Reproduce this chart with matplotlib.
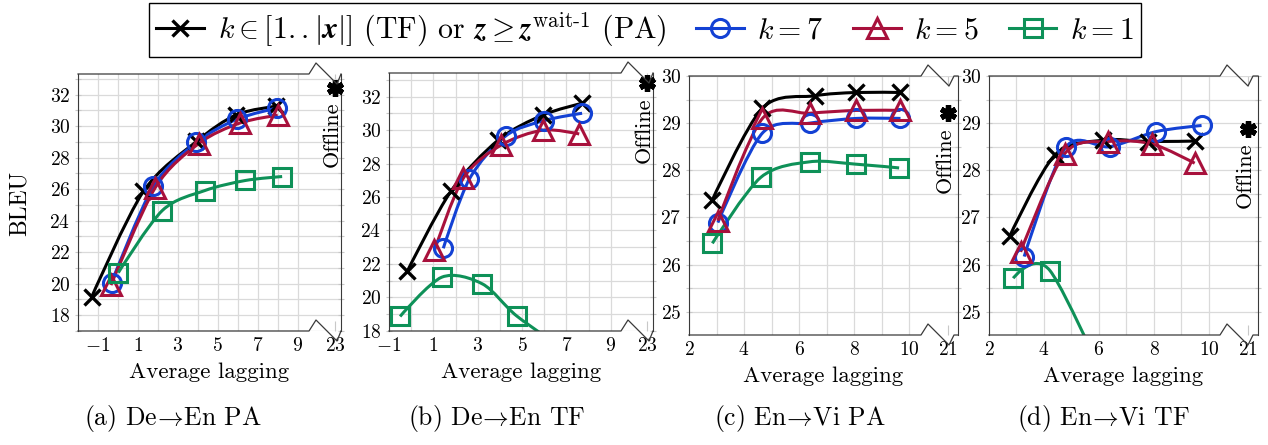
import matplotlib
matplotlib.use("Agg")
import numpy as np
import matplotlib.pyplot as plt
from matplotlib.path import Path
from matplotlib.patches import PathPatch
from matplotlib.lines import Line2D
from matplotlib.ticker import MultipleLocator, FixedLocator

plt.rcParams["font.family"] = "cmr10"
plt.rcParams["mathtext.fontset"] = "cm"
plt.rcParams["axes.formatter.use_mathtext"] = True

W, H = 1268, 445

# average lagging / BLEU for each panel and each wait setting
a_full_x = [-1.32, 1.27, 3.93, 5.93, 7.93]
a_full_y = [19.13, 25.85, 29.03, 30.73, 31.27]
a_k7_x = [-0.32, 1.77, 3.93, 5.97, 7.98]
a_k7_y = [20.06, 26.17, 28.97, 30.45, 31.16]
a_k5_x = [-0.35, 1.87, 4.05, 6.1, 8.0]
a_k5_y = [19.9, 26.1, 28.9, 30.2, 30.7]
a_k1_x = [0.02, 2.22, 4.35, 6.38, 8.22]
a_k1_y = [20.69, 24.64, 25.91, 26.55, 26.8]
a_offline = (23, 32.43)

b_full_x = [-0.17, 1.80, 3.93, 5.93, 7.69]
b_full_y = [21.57, 26.36, 29.41, 30.9, 31.6]
b_k7_x = [1.45, 2.62, 4.26, 5.99, 7.71]
b_k7_y = [22.93, 27.06, 29.65, 30.57, 31.01]
b_k5_x = [1.05, 2.35, 4.06, 5.95, 7.58]
b_k5_y = [22.8, 27.12, 29.11, 30.0, 29.77]
b_k1_x = [-0.5, 1.38, 3.21, 4.76, 7.0]
b_k1_y = [18.85, 21.2, 20.8, 18.88, 16.8]
b_offline = (23, 32.8)

c_full_x = [2.84, 4.67, 6.57, 8.06, 9.66]
c_full_y = [27.36, 29.32, 29.58, 29.65, 29.65]
c_k7_x = [3.05, 4.67, 6.39, 8.09, 9.69]
c_k7_y = [26.89, 28.79, 29.0, 29.1, 29.1]
c_k5_x = [3.05, 4.67, 6.39, 8.09, 9.69]
c_k5_y = [26.93, 29.1, 29.21, 29.27, 29.27]
c_k1_x = [2.85, 4.61, 6.39, 8.06, 9.64]
c_k1_y = [26.45, 27.85, 28.18, 28.13, 28.05]
c_offline = (21, 29.21)

d_full_x = [2.76, 4.39, 6.16, 7.79, 9.48]
d_full_y = [26.61, 28.32, 28.64, 28.61, 28.62]
d_k7_x = [3.28, 4.79, 6.39, 8.07, 9.73]
d_k7_y = [26.17, 28.49, 28.5, 28.82, 28.95]
d_k5_x = [3.15, 4.75, 6.34, 7.92, 9.48]
d_k5_y = [26.27, 28.35, 28.61, 28.56, 28.15]
d_k1_x = [2.88, 4.22, 6.7]
d_k1_y = [25.71, 25.87, 22.9]
d_offline = (21, 28.88)

captions = [r"(a) De$\!\rightarrow\!$En PA", r"(b) De$\!\rightarrow\!$En TF",
            r"(c) En$\!\rightarrow\!$Vi PA", r"(d) En$\!\rightarrow\!$Vi TF"]

BLUE = "#1341d4"
RED = "#a8113c"
GREEN = "#0e9158"
GRID = "#dadada"
SPINE = "#3a3a3a"

series_style = [
    dict(color="black", marker="x", ms=12, mew=2.4, mfc="none"),
    dict(color=BLUE, marker="o", ms=13, mew=2.2, mfc="none"),
    dict(color=RED, marker="^", ms=14, mew=2.2, mfc="none"),
    dict(color=GREEN, marker="s", ms=13, mew=2.2, mfc="none"),
]
legend_labels = [
    r"$k \in [1{.}{.}|\boldsymbol{x}|]$ (TF) or $\boldsymbol{z} \geq \boldsymbol{z}^{\mathrm{wait}\text{-}1}$ (PA)",
    r"$k = 7$", r"$k = 5$", r"$k = 1$",
]

# panel geometry in pixels: left, break peak, right, top, bottom
panels = [
    dict(px=(78, 316, 341, 74, 331), xlim=(-2, 9.915), olim=(22.05, 23.3),
         ylim=(16.98, 33.32), xt=[-1, 1, 3, 5, 7, 9], ymaj=2, ymin=1,
         series=[(a_full_x, a_full_y), (a_k7_x, a_k7_y), (a_k5_x, a_k5_y), (a_k1_x, a_k1_y)],
         off=a_offline, ylabel=True, cap_x=173),
    dict(px=(389, 628, 653, 73, 331), xlim=(-1, 9.78), olim=(22.143, 23.27),
         ylim=(17.98, 33.42), xt=[-1, 1, 3, 5, 7, 9], ymaj=2, ymin=1,
         series=[(b_full_x, b_full_y), (b_k7_x, b_k7_y), (b_k5_x, b_k5_y), (b_k1_x, b_k1_y)],
         off=b_offline, ylabel=False, cap_x=497),
    dict(px=(689, 928, 958, 76, 335), xlim=(2, 10.69), olim=(20.273, 21.364),
         ylim=(24.506, 30.0), xt=[2, 4, 6, 8, 10], ymaj=1, ymin=0.5,
         series=[(c_full_x, c_full_y), (c_k7_x, c_k7_y), (c_k5_x, c_k5_y), (c_k1_x, c_k1_y)],
         off=c_offline, ylabel=False, cap_x=800),
    dict(px=(989, 1227, 1258, 76, 335), xlim=(2, 10.655), olim=(20.236, 21.364),
         ylim=(24.506, 30.0), xt=[2, 4, 6, 8, 10], ymaj=1, ymin=0.5,
         series=[(d_full_x, d_full_y), (d_k7_x, d_k7_y), (d_k5_x, d_k5_y), (d_k1_x, d_k1_y)],
         off=d_offline, ylabel=False, cap_x=1103),
]


def smooth_path(xs, ys, t=0.15):
    # cubic bezier through the points, tangents from the neighbours
    p = np.column_stack([xs, ys]).astype(float)
    n = len(p)
    verts = [p[0]]
    codes = [Path.MOVETO]
    for i in range(n - 1):
        c1 = p[i] + t * (p[i + 1] - p[i - 1]) if i > 0 else p[i]
        c2 = p[i + 1] - t * (p[i + 2] - p[i]) if i + 2 < n else p[i + 1]
        verts += [c1, c2, p[i + 1]]
        codes += [Path.CURVE4] * 3
    return Path(verts, codes)


def fx(px):
    return px / W


def fy(py):
    return 1 - py / H


def style_grid(ax, ymaj, ymin):
    ax.yaxis.set_major_locator(MultipleLocator(ymaj))
    ax.yaxis.set_minor_locator(MultipleLocator(ymin))
    ax.grid(True, which="both", color=GRID, lw=0.9)
    ax.set_axisbelow(True)
    for s in ax.spines.values():
        s.set_visible(False)
    ax.tick_params(which="both", color="#c8c8c8", width=0.8)


fig = plt.figure(figsize=(W / 100, H / 100), dpi=100)

for pan in panels:
    left, peak, right, top, bottom = pan["px"]
    ax = fig.add_axes([fx(left), fy(bottom), fx(peak - left), (bottom - top) / H])
    ox = fig.add_axes([fx(peak), fy(bottom), fx(right - peak), (bottom - top) / H])

    ax.set_xlim(*pan["xlim"])
    ax.set_ylim(*pan["ylim"])
    ax.xaxis.set_major_locator(FixedLocator(pan["xt"]))
    ax.xaxis.set_minor_locator(MultipleLocator(1))
    style_grid(ax, pan["ymaj"], pan["ymin"])
    ax.spines["left"].set_visible(True)
    ax.spines["left"].set_color(SPINE)
    ax.tick_params(axis="y", which="both", direction="inout", length=5, labelsize=14, pad=3)
    ax.tick_params(axis="x", which="both", direction="in", length=0, labelsize=14, pad=4)

    ox.set_xlim(*pan["olim"])
    ox.set_ylim(*pan["ylim"])
    ox.xaxis.set_major_locator(FixedLocator([pan["off"][0]]))
    ox.xaxis.set_minor_locator(FixedLocator([]))
    style_grid(ox, pan["ymaj"], pan["ymin"])
    ox.grid(False, axis="x", which="both")
    ox.spines["right"].set_visible(True)
    ox.spines["right"].set_color(SPINE)
    ox.tick_params(axis="y", which="both", left=False, right=True, labelleft=False,
                   direction="inout", length=5)
    ox.tick_params(axis="x", top=True, direction="in", length=7, labelsize=14, pad=4)

    for (xs, ys), st in zip(pan["series"], series_style):
        ax.add_patch(PathPatch(smooth_path(xs, ys), fill=False, edgecolor=st["color"],
                               lw=2.2, zorder=3))
        ax.plot(xs, ys, linestyle="none", zorder=4, **st)

    ox.plot([pan["off"][0]], [pan["off"][1]], linestyle="none", marker=(6, 2, 0),
            ms=12, mew=3.8, color="black", clip_on=False, zorder=5)
    ox.annotate("Offline", xy=pan["off"], xytext=(-2, -10), textcoords="offset points",
                rotation=90, ha="center", va="top", fontsize=16, annotation_clip=False)

    # frame with the axis-break zigzag on top and bottom edges
    zx = [left, peak - 7, peak, peak + 21, min(peak + 26, right), right]
    for y0 in (top, bottom):
        zy = [y0, y0, y0 - 11, y0 + 10, y0, y0]
        fig.add_artist(Line2D([fx(v) for v in zx], [fy(v) for v in zy],
                              color=SPINE, lw=0.9, transform=fig.transFigure))

    fig.text(fx((left + right) / 2), fy(bottom + 41), "Average lagging", ha="center",
             va="center", fontsize=16.5)
    if pan["ylabel"]:
        fig.text(fx(20), fy(203), "BLEU", rotation=90, ha="center", va="center",
                 fontsize=17)

for pan, cap in zip(panels, captions):
    fig.text(fx(pan["cap_x"]), fy(418), cap, ha="center", va="center", fontsize=18.5)

handles = [Line2D([], [], lw=2.2, **st) for st in series_style]
fig.legend(handles, legend_labels, loc="center", bbox_to_anchor=(fx(645), fy(30)),
           ncol=4, fontsize=21.5, frameon=True, fancybox=False, edgecolor="black",
           framealpha=1, handlelength=1.6, columnspacing=1.0, handletextpad=0.45,
           borderpad=0.25, borderaxespad=0)

fig.savefig("out.png", dpi=100)
